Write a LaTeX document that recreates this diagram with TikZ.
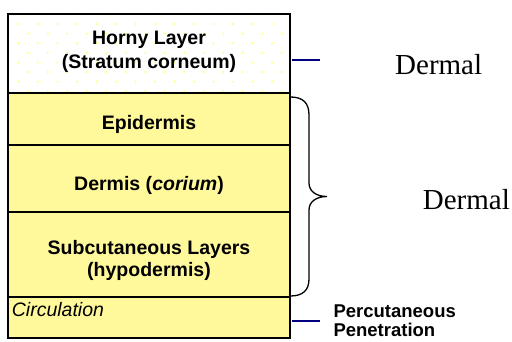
\documentclass[tikz,border=0pt]{standalone}
\usepackage{fontspec}
\usepackage{graphicx}
\setmainfont{Liberation Sans}
\newfontfamily\dermalfont{Liberation Serif}
\definecolor{layeryellow}{HTML}{FFF99C}
\definecolor{dotyellow}{HTML}{FFFF70}
\definecolor{navyline}{HTML}{000080}
\begin{document}
\begin{tikzpicture}[x=1pt,y=-1pt,
  layerbox/.style={draw=black, line width=2pt, minimum width=281.2pt, inner sep=0pt, outer sep=0pt, anchor=north west},
  layertext/.style={font=\fontsize{19.5}{23}\selectfont\bfseries, anchor=base, inner sep=0pt},
  circtext/.style={font=\fontsize{19.5}{23}\selectfont\itshape, anchor=base west, inner sep=0pt},
  sidetext/.style={font=\fontsize{18.5}{22}\selectfont\bfseries, anchor=base west, inner sep=0pt},
  dermaltext/.style={font=\dermalfont\fontsize{29}{34}\selectfont, anchor=base west, inner sep=0pt},
  tick/.style={draw=navyline, line width=2pt},
  bracestyle/.style={draw=black, line width=1.3pt}]
\useasboundingbox (0,0) rectangle (512,341);
% horny layer with dotted texture
\fill[white] (8.3,13.7) rectangle (289.5,92.5);
\begin{scope}
\clip (8.3,13.7) rectangle (289.5,92.5);
\foreach \r in {0,...,8} {
  \foreach \c in {0,...,15} {
    \fill[dotyellow] ({8.8+9.75*mod(\r,2)+19.5*\c}, {14.4+9.6*\r}) circle (1.1pt);
  }
}
\end{scope}
\node[layerbox, minimum height=78.8pt] (horny) at (8.3,13.7) {};
\node[layerbox, fill=layeryellow, minimum height=52.8pt] (epi) at (8.3,92.5) {};
\node[layerbox, fill=layeryellow, minimum height=66.4pt] (dermis) at (8.3,145.3) {};
\node[layerbox, fill=layeryellow, minimum height=85.3pt] (subcut) at (8.3,211.7) {};
\node[layerbox, fill=layeryellow, minimum height=41pt] (circ) at (8.3,297) {};
% texts
\node[layertext] (horny1) at (149,44.3) {Horny Layer};
\node[layertext] (horny2) at (149,68.3) {(Stratum corneum)};
\node[layertext] (epitext) at (149,129.3) {Epidermis};
\node[layertext] (dermistext) at (149,190) {Dermis (\textit{corium})};
\node[layertext] (subcut1) at (149,254.3) {Subcutaneous Layers};
\node[layertext] (subcut2) at (149,276.3) {(hypodermis)};
\node[circtext] (circtext) at (11.7,316.7) {Circulation};
% right side
\coordinate (tickA1) at (292,60);
\coordinate (tickA2) at (320,60);
\coordinate (tickB1) at (292,320.5);
\coordinate (tickB2) at (320,320.5);
\draw[tick] (tickA1) -- (tickA2);
\draw[tick] (tickB1) -- (tickB2);
\node[dermaltext] (dermal1) at (395,74) {Dermal};
\node[dermaltext] (dermal2) at (422.7,209.3) {Dermal};
\node[sidetext] (perc1) at (333.3,317.3) {Percutaneous};
\node[sidetext] (perc2) at (333.3,336.8) {Penetration};
% brace
\coordinate (bracetop) at (290.5,97);
\coordinate (bracetip) at (327,196.5);
\coordinate (bracebot) at (290.5,296);
\draw[bracestyle] (bracetop) .. controls (303,97) and (309,103) .. (309,115) -- (309,183)
  .. controls (309,191) and (316,196.5) .. (bracetip)
  .. controls (316,196.5) and (309,202) .. (309,210) -- (309,279)
  .. controls (309,290) and (303,296) .. (bracebot);
\end{tikzpicture}
\end{document}
